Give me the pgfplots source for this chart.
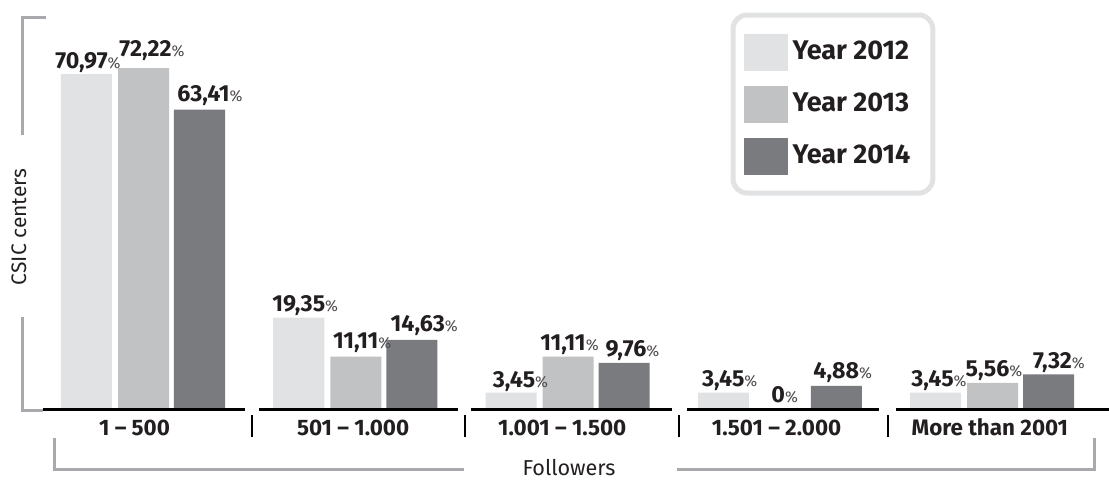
\documentclass[border=0pt]{standalone}
\usepackage{pgfplots}
\usepackage{pgfplotstable}
\pgfplotsset{compat=1.18}
\usepackage{fontspec}
\setmainfont{Fira Sans}
\definecolor{cA}{RGB}{225,226,228}
\definecolor{cB}{RGB}{193,194,196}
\definecolor{cC}{RGB}{122,123,127}
\definecolor{brk}{RGB}{168,169,172}
\definecolor{legbd}{RGB}{225,226,228}
\definecolor{txt}{RGB}{35,31,32}

\pgfplotstableread{
x y lab dx dy
0 70.97 70,97 -2.5 3
1 19.35 19,35 0 3
2 3.45 3,45 1.5 2.5
3 3.45 3,45 0 3
4 3.45 3,45 -1.5 3
}\tA
\pgfplotstableread{
x y lab dx dy
0 72.22 72,22 1 6
1 11.11 11,11 0 4
2 11.11 11,11 -2.5 3
3 0 0 -1 3.5
4 5.56 5,56 -2.5 3
}\tB
\pgfplotstableread{
x y lab dx dy
0 63.41 63,41 2 4
1 14.63 14,63 3 4
2 9.76 9,76 1 3
3 4.88 4,88 0 3.5
4 7.32 7,32 2 3
}\tC

\begin{document}
\begin{tikzpicture}
\begin{axis}[
  scale only axis, width=554.5pt, height=239.5pt,
  xmin=-0.6737, xmax=4.5512, ymin=-14.83, ymax=86.65,
  enlargelimits=false,
  axis line style={draw=none}, major tick length=0pt, ytick=\empty,
  xtick={-0.04,0.99,1.975,2.985,3.99},
  xticklabels={1 – 500, 501 – 1.000, 1.001 – 1.500, 1.501 – 2.000, More than 2001},
  xticklabel style={anchor=base, yshift=21.75pt, font=\fontsize{11.2}{11.2}\selectfont\bfseries, text=txt},
  ybar, bar width=0.2403,
  clip=false,
  point meta=explicit symbolic,
  visualization depends on={\thisrow{dx}\as\labdx},
  visualization depends on={\thisrow{dy}\as\labdy},
  nodes near coords={\textbf{\pgfplotspointmeta}\rlap{\fontsize{7.8}{7.8}\selectfont\color{txt!80}\%}},
  nodes near coords style={anchor=base, xshift=\labdx pt, yshift=\labdy pt, font=\fontsize{11.6}{11.6}\selectfont, text=txt},
  xlabel={Followers},
  xlabel style={at={(rel axis cs:0.5131,0.00835)}, anchor=base, font=\fontsize{10.8}{10.8}\selectfont, text=txt},
  ylabel={CSIC centers},
  ylabel style={at={(rel axis cs:0.0171,0.5261)}, anchor=center, font=\fontsize{10.5}{10.5}\selectfont, text=txt},
  legend style={at={(rel axis cs:0.65870,0.97390)}, anchor=north west, draw=legbd, line width=2.5pt,
    rounded corners=7pt, inner xsep=5.25pt, inner ysep=9.25pt, row sep=7.5pt,
    font=\fontsize{13.5}{13.5}\selectfont\bfseries, text=txt,
    /tikz/every even column/.append style={column sep=0pt}, nodes={inner xsep=2.5pt}},
  legend cell align=left,
  legend image code/.code={\fill[#1,sharp corners] (0pt,-9.25pt) rectangle (22pt,9.25pt);},
]
\addplot[fill=cA, draw=none, bar shift=-0.2662] table[x=x,y=y,meta=lab]{\tA};
\addplot[fill=cB, draw=none, bar shift=0.0024] table[x=x,y=y,meta=lab]{\tB};
\addplot[fill=cC, draw=none, bar shift=0.2662] table[x=x,y=y,meta=lab]{\tC};
\legend{Year 2012\hspace*{3.5pt}, Year 2013\hspace*{3.5pt}, Year 2014\hspace*{3.5pt}}
\end{axis}
\begin{scope}[shift={(current axis.north west)}, x=0.5pt, y=-0.5pt]
  \draw[brk, line width=1.5pt] (46,17)--(22,17)--(22,135);
  \draw[brk, line width=1.5pt] (22,317)--(22,410)--(43,410);
  \foreach \a/\b in {43/245, 259/458, 471/672, 687/879, 896/1109}
    \draw[black, line width=1.75pt] (\a,409.5)--(\b,409.5);
  \foreach \s in {252,465,679,888}
    \draw[black, line width=1pt] (\s,415)--(\s,437);
  \draw[brk, line width=1.5pt] (54,438)--(54,469)--(464,469);
  \draw[brk, line width=1.5pt] (677,469)--(1094,469)--(1094,438);
\end{scope}
\pgfresetboundingbox
\path (current axis.south west) rectangle (current axis.north east);
\end{tikzpicture}
\end{document}
